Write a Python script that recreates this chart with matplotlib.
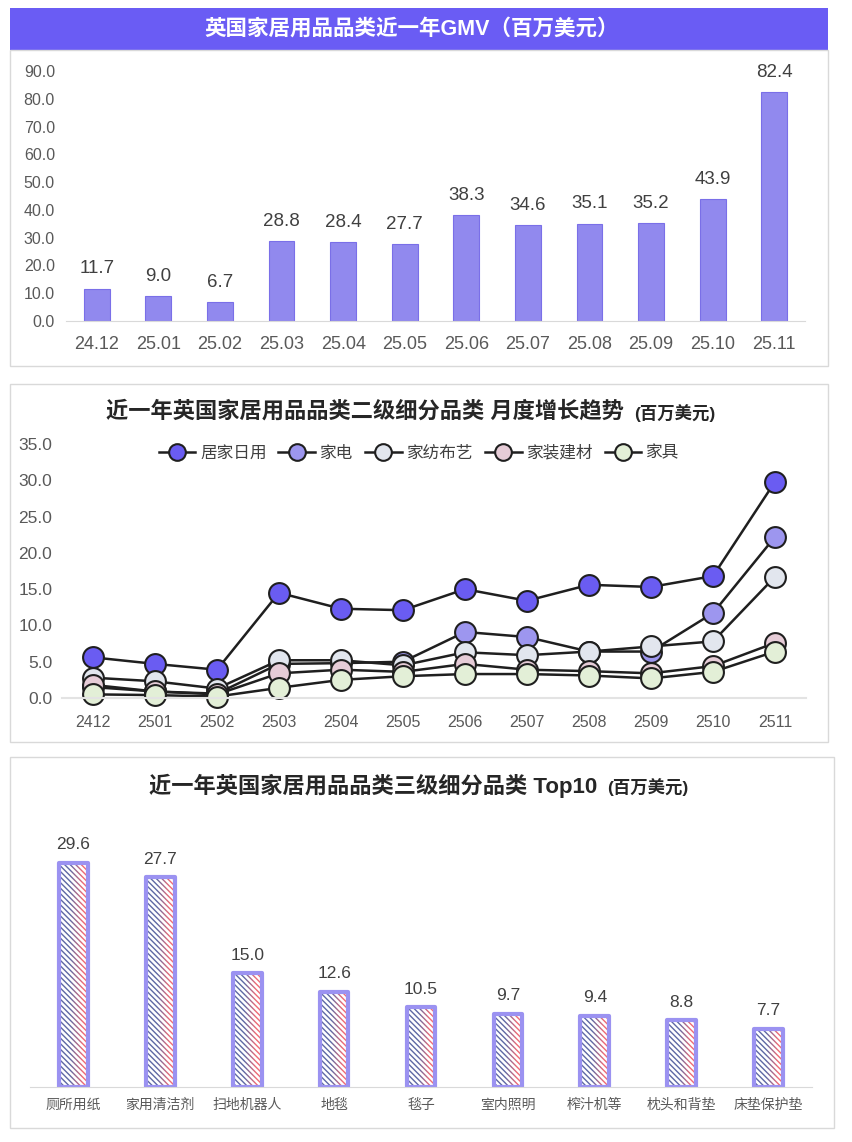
import numpy as np
import matplotlib.pyplot as plt
from matplotlib.patches import Rectangle
from matplotlib.colors import to_rgb

plt.rcParams['font.family'] = ['Liberation Sans', 'Noto Sans CJK SC']

W, H = 852, 1142

# ---------- data ----------
gmv_months = ['24.12', '25.01', '25.02', '25.03', '25.04', '25.05',
              '25.06', '25.07', '25.08', '25.09', '25.10', '25.11']
gmv_values = [11.7, 9.0, 6.7, 28.8, 28.4, 27.7, 38.3, 34.6, 35.1, 35.2, 43.9, 82.4]

trend_months = ['2412', '2501', '2502', '2503', '2504', '2505',
                '2506', '2507', '2508', '2509', '2510', '2511']
series_names = ['居家日用', '家电', '家纺布艺', '家装建材', '家具']
daily = [5.6, 4.7, 3.9, 14.5, 12.3, 12.1, 15.0, 13.4, 15.6, 15.3, 16.8, 29.8]
appliance = [1.5, 0.9, 0.6, 4.7, 4.8, 5.0, 9.1, 8.4, 6.4, 6.4, 11.7, 22.2]
textile = [2.8, 2.3, 1.3, 5.2, 5.2, 4.5, 6.3, 5.9, 6.4, 7.1, 7.8, 16.7]
building = [1.8, 0.9, 0.5, 3.4, 3.9, 3.6, 4.7, 3.9, 3.7, 3.4, 4.4, 7.6]
furniture = [0.5, 0.4, 0.2, 1.4, 2.5, 3.0, 3.3, 3.3, 3.1, 2.7, 3.6, 6.4]

top_cats = ['厕所用纸', '家用清洁剂', '扫地机器人', '地毯', '毯子',
            '室内照明', '榨汁机等', '枕头和背垫', '床垫保护垫']
top_values = [29.6, 27.7, 15.0, 12.6, 10.5, 9.7, 9.4, 8.8, 7.7]

# ---------- helpers ----------
def px_axes(fig, x0, y0, x1, y1):
    return fig.add_axes([x0 / W, 1 - y1 / H, (x1 - x0) / W, (y1 - y0) / H])

TICK = '#595959'
VAL = '#404040'
BORDER = '#d9d9d9'

fig = plt.figure(figsize=(W / 100, H / 100), dpi=100)
bg = fig.add_axes([0, 0, 1, 1], zorder=-10)
bg.set_xlim(0, W)
bg.set_ylim(H, 0)
bg.axis('off')

# panel boxes
bg.add_patch(Rectangle((10, 8), 818, 42, facecolor='#6a5cf4', edgecolor='none'))
bg.add_patch(Rectangle((10, 50), 818, 316, facecolor='none', edgecolor=BORDER, lw=1))
bg.add_patch(Rectangle((10, 384), 818, 358, facecolor='none', edgecolor=BORDER, lw=1))
bg.add_patch(Rectangle((10, 757), 824, 371, facecolor='none', edgecolor=BORDER, lw=1))

# titles
bg.text(412, 29, '英国家居用品品类近一年GMV（百万美元）', color='white',
        fontsize=15.5, fontweight='bold', ha='center', va='center')
bg.text(624, 412, '近一年英国家居用品品类二级细分品类 月度增长趋势', color='#262626',
        fontsize=16, fontweight='bold', ha='right', va='center')
bg.text(634, 413, '(百万美元)', color='#262626', fontsize=12.5,
        fontweight='bold', ha='left', va='center')
bg.text(597, 786, '近一年英国家居用品品类三级细分品类 Top10', color='#262626',
        fontsize=16, fontweight='bold', ha='right', va='center')
bg.text(607, 787, '(百万美元)', color='#262626', fontsize=12.5,
        fontweight='bold', ha='left', va='center')

# ---------- panel 1: GMV bars ----------
ax1 = px_axes(fig, 66, 71, 805, 321)
x1 = np.arange(len(gmv_months))
ax1.bar(x1, gmv_values, width=0.42, color='#9189ee', edgecolor='#7a6fe8', lw=0.8)
for xi, v in zip(x1, gmv_values):
    ax1.text(xi, v + 4, f'{v:.1f}', ha='center', va='bottom', fontsize=13.5,
             color=VAL, clip_on=False)
ax1.set_xlim(-0.5, len(gmv_months) - 0.5)
ax1.set_ylim(0, 90)
ax1.set_yticks(np.arange(0, 91, 10))
ax1.set_yticklabels([f'{t:.1f}' for t in np.arange(0, 91, 10)])
ax1.set_xticks(x1)
ax1.set_xticklabels(gmv_months)
ax1.tick_params(length=0, colors=TICK)
ax1.tick_params(axis='y', pad=8, labelsize=11.5)
ax1.tick_params(axis='x', pad=11, labelsize=13)
for s in ['top', 'right', 'left']:
    ax1.spines[s].set_visible(False)
ax1.spines['bottom'].set_color('#d9d9d9')
ax1.patch.set_alpha(0)

# ---------- panel 2: trend lines ----------
ax2 = px_axes(fig, 62, 444, 806, 698)
x2 = np.arange(len(trend_months))
series = [daily, appliance, textile, building, furniture]
colors = ['#6a5cf2', '#9d96ef', '#e2e6ee', '#e6ccd7', '#e3efd7']
for name, vals, c in zip(series_names, series, colors):
    ax2.plot(x2, vals, color='#1f1f1f', lw=1.8, marker='o', markersize=15,
             markerfacecolor=c, markeredgecolor='#1f1f1f', markeredgewidth=1.5,
             label=name, clip_on=False)
ax2.set_xlim(-0.5, len(trend_months) - 0.5)
ax2.set_ylim(0, 35)
ax2.set_yticks(np.arange(0, 36, 5))
ax2.set_yticklabels([f'{t:.1f}' for t in np.arange(0, 36, 5)])
ax2.set_xticks(x2)
ax2.set_xticklabels(trend_months)
ax2.tick_params(length=0, colors=TICK)
ax2.tick_params(axis='y', pad=7, labelsize=12.5)
ax2.tick_params(axis='x', pad=12, labelsize=11.5)
for s in ['top', 'right', 'left']:
    ax2.spines[s].set_visible(False)
ax2.spines['bottom'].set_color('#e3e3e3')
ax2.spines['bottom'].set_linewidth(1.5)
ax2.patch.set_alpha(0)
leg = ax2.legend(loc='center', bbox_to_anchor=(0.48, 0.965), ncol=5, frameon=False,
                 fontsize=12, handlelength=2.2, handletextpad=0.3,
                 columnspacing=0.7, markerscale=0.8)
for t in leg.get_texts():
    t.set_color('#404040')

# ---------- panel 3: top categories ----------
ax3 = px_axes(fig, 30, 850, 812, 1087)
x3 = np.arange(len(top_cats))
bw = 0.33
n_slices = 14
c_left = np.array(to_rgb('#5d68a4'))
c_right = np.array(to_rgb('#f06a74'))
for xi, v in zip(x3, top_values):
    left = xi - bw / 2
    sw = bw / n_slices
    for i in range(n_slices):
        t = i / (n_slices - 1)
        f = float(np.clip((t - 0.4) / 0.45, 0, 1))
        hc = c_left * (1 - f) + c_right * f
        ax3.bar(left + i * sw, v, width=sw, align='edge', facecolor='white',
                edgecolor=hc, lw=0, hatch='\\\\\\\\\\\\')
    ax3.add_patch(Rectangle((left, 0), bw, v, fill=False, edgecolor='#9b92f1',
                            lw=3, joinstyle='round'))
    ax3.text(xi, v + 1.4, f'{v:.1f}', ha='center', va='bottom', fontsize=12.5,
             color=VAL, clip_on=False)
ax3.set_xlim(-0.5, len(top_cats) - 0.5)
ax3.set_ylim(0, 31.3)
ax3.set_yticks([])
ax3.set_xticks(x3)
ax3.set_xticklabels(top_cats)
ax3.tick_params(length=0, labelsize=10, colors=TICK, pad=8)
for s in ['top', 'right', 'left']:
    ax3.spines[s].set_visible(False)
ax3.spines['bottom'].set_color('#d9d9d9')
ax3.patch.set_alpha(0)

fig.savefig('out.png', dpi=100)
